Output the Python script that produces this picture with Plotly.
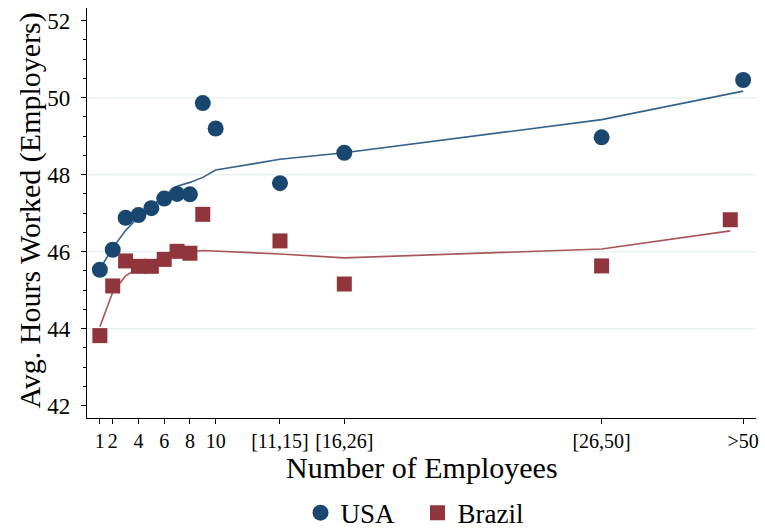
import plotly.graph_objects as go

# ---- data ----
tick_pos = [1, 2, 4, 6, 8, 10, 15, 20, 40, 51]
tick_labels = ["1", "2", "4", "6", "8", "10", "[11,15]", "[16,26]", "[26,50]", ">50"]

usa_x = [1, 2, 3, 4, 5, 6, 7, 8, 9, 10, 15, 20, 40, 51]
usa_y = [45.53, 46.05, 46.88, 46.95, 47.13, 47.38, 47.50, 47.49, 49.86, 49.20, 47.78, 48.57, 48.97, 50.46]
usa_fit = [45.55, 46.10, 46.55, 46.90, 47.17, 47.45, 47.70, 47.80, 47.93, 48.12, 48.40, 48.57, 49.43, 50.17]

brazil_x = [1, 2, 3, 4, 5, 6, 7, 8, 9, 15, 20, 40, 50]
brazil_y = [43.82, 45.11, 45.76, 45.62, 45.62, 45.80, 46.01, 45.96, 46.97, 46.28, 45.16, 45.63, 46.83]
brazil_fit = [44.05, 44.95, 45.37, 45.58, 45.68, 45.79, 45.92, 46.00, 46.03, 45.94, 45.84, 46.07, 46.54]

grid_vals = [44, 46, 48, 50]

USA_C = "#1a476f"
BRA_C = "#90353b"
FONT = "Liberation Serif"

fig = go.Figure()
fig.add_trace(go.Scatter(x=usa_x, y=usa_fit, mode="lines", line=dict(color="#35618a", width=1.6),
                         showlegend=False, hoverinfo="skip"))
fig.add_trace(go.Scatter(x=brazil_x, y=brazil_fit, mode="lines", line=dict(color="#a9545a", width=1.6),
                         showlegend=False, hoverinfo="skip"))
fig.add_trace(go.Scatter(x=usa_x, y=usa_y, mode="markers", name="USA",
                         marker=dict(symbol="circle", size=16, color=USA_C, line=dict(width=0))))
fig.add_trace(go.Scatter(x=brazil_x, y=brazil_y, mode="markers", name="Brazil",
                         marker=dict(symbol="square", size=15, color=BRA_C, line=dict(width=0))))

for g in grid_vals:
    fig.add_shape(type="line", xref="paper", yref="y", x0=0, x1=1, y0=g, y1=g,
                  line=dict(color="#eaf2f3", width=1.5), layer="below")

fig.add_annotation(text="Number of Employees", xref="paper", yref="paper", x=0.5, y=-0.121,
                   xanchor="center", yanchor="middle", showarrow=False, font=dict(size=30))
fig.add_annotation(text="Avg. Hours Worked (Employers)", xref="paper", yref="paper", x=-0.0857, y=0.505,
                   xanchor="center", yanchor="middle", showarrow=False, textangle=-90, font=dict(size=30))

fig.update_layout(
    width=765, height=529,
    margin=dict(l=87, r=9, t=8, b=111, autoexpand=False),
    paper_bgcolor="white", plot_bgcolor="white",
    font=dict(family=FONT, color="black", size=21),
    legend=dict(orientation="h", x=0.494, xanchor="center", y=-0.232,
                yanchor="middle", font=dict(size=27), itemwidth=30, tracegroupgap=0,
                entrywidth=72),
    xaxis=dict(range=[0, 52], tickvals=tick_pos, ticktext=tick_labels, showgrid=False,
               zeroline=False, showline=True, linecolor="black", linewidth=1.3,
               ticks="outside", ticklen=5, tickcolor="black", tickwidth=1.2,
               tickfont=dict(size=20), automargin=False),
    yaxis=dict(range=[41.68, 52.33], tickvals=[42, 44, 46, 48, 50, 52], showgrid=False,
               zeroline=False, showline=True, linecolor="black", linewidth=1.3,
               ticks="outside", ticklen=5, tickcolor="black", tickwidth=1.2,
               tickfont=dict(size=23), ticklabelstandoff=6, automargin=False,
               minor=dict(dtick=0.5, ticks="outside", ticklen=3, tickcolor="black", tickwidth=1)),
)

fig.write_html("out.html", config={"displayModeBar": False},
               post_script="document.body.style.margin='0';document.body.style.overflow='hidden';")
